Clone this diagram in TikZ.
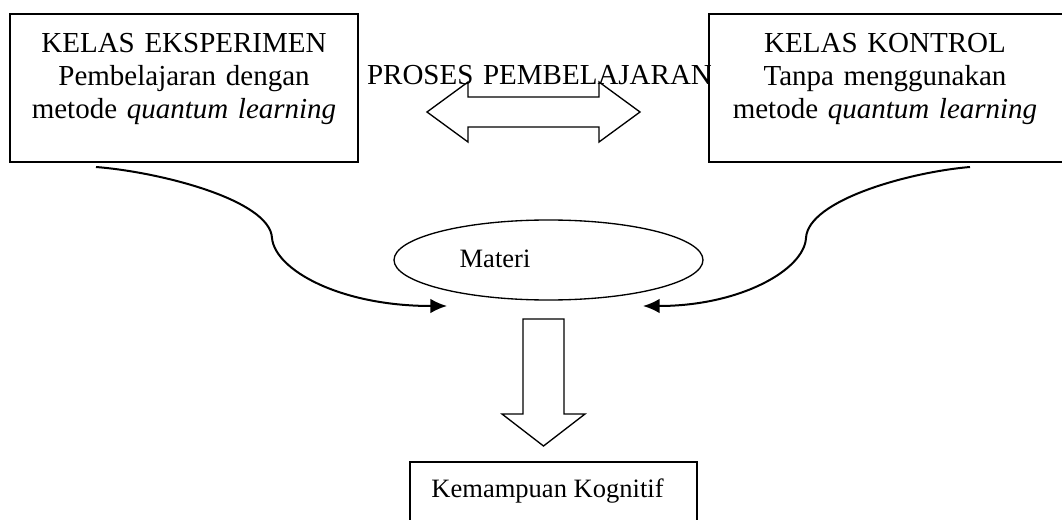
\documentclass[tikz,border=0pt]{standalone}
\usepackage{fontspec}
\setmainfont{Liberation Serif}
\usetikzlibrary{arrows.meta,shapes,positioning}

\begin{document}
\begin{tikzpicture}[x=0.75pt,y=-0.75pt]
        \tikzstyle{kelas}=[rectangle, draw = black, line width = 1.6pt, minimum height = 111pt, inner sep = 0pt]
        \tikzstyle{teks}=[text width = 250pt, align = center, anchor = base, inner sep = 0pt, font = \fontsize{21.75}{24.4}\selectfont]
        \tikzstyle{kecil}=[anchor = base, inner sep = 0pt, font = \fontsize{19.9}{22}\selectfont]
        \tikzstyle{blok}=[draw = black, line width = 1pt, line join = miter]
        \tikzstyle{connect}=[-{Latex[length=12.5pt,width=11pt]}, line width = 1.5pt]
        \path[use as bounding box] (0,0) rectangle (1062,520);
        \clip (0,0) rectangle (1062,520);
        % kotak atas
        \node[kelas, minimum width = 261pt] (eksp) at (184,88) {};
        \node[kelas, minimum width = 274pt] (kontrol) at (892,88) {};
        \node[teks] (eksptxt) at (184,53) {KELAS EKSPERIMEN\\Pembelajaran dengan\\metode \textit{quantum learning}};
        \node[teks] (kontroltxt) at (885,53) {KELAS KONTROL\\Tanpa menggunakan\\metode \textit{quantum learning}};
        \node[teks, text width = 270pt] (proses) at (539.5,85) {PROSES PEMBELAJARAN};
        % panah dua arah
        \draw[blok] (427,112) -- (468,82) -- (468,97) -- (599,97) -- (599,82) -- (640,112)
                -- (599,142) -- (599,127) -- (468,127) -- (468,142) -- cycle;
        % materi
        \node[ellipse, draw = black, line width = 1pt, minimum width = 231.75pt, minimum height = 60pt] (materi) at (548.5,260) {};
        \node[kecil] (materitxt) at (495,267) {Materi};
        \coordinate (kiri) at (272,238);
        \coordinate (kanan) at (806,238);
        \coordinate (masukkiri) at (447,306);
        \coordinate (masukkanan) at (643,306);
        \draw[connect] (96,167) .. controls (160,172) and (270,200) .. (kiri)
                .. controls (275,270) and (340,306) .. (masukkiri);
        \draw[connect] (970,167) .. controls (910,172) and (808,200) .. (kanan)
                .. controls (804,270) and (740,306) .. (masukkanan);
        % panah ke bawah
        \draw[blok] (523,319) -- (564,319) -- (564,414) -- (585,414) -- (543.5,446)
                -- (502,414) -- (523,414) -- cycle;
        % hasil
        \node[rectangle, draw = black, line width = 1.1pt, minimum width = 215pt, minimum height = 60pt] (kognitif) at (553.5,502) {};
        \node[kecil] (kognitiftxt) at (547.5,497) {Kemampuan Kognitif};
\end{tikzpicture}
\end{document}
